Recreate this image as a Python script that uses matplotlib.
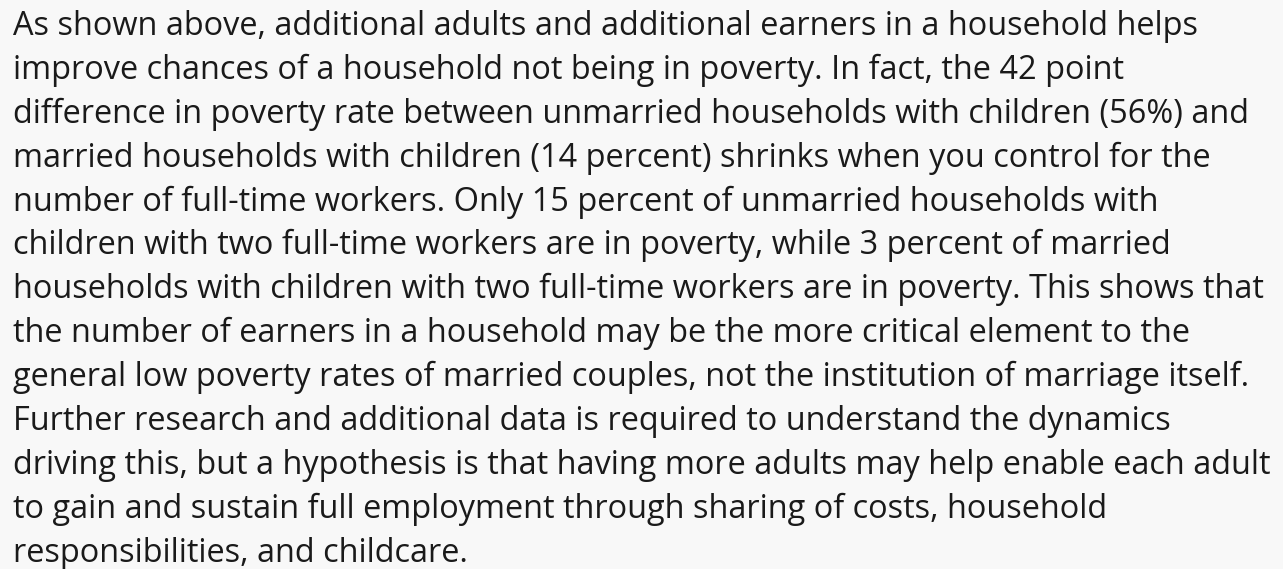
import matplotlib
matplotlib.use("Agg")
import matplotlib.pyplot as plt

lines = [
    "As shown above, additional adults and additional earners in a household helps",
    "improve chances of a household not being in poverty. In fact, the 42 point",
    "difference in poverty rate between unmarried households with children (56%) and",
    "married households with children (14 percent) shrinks when you control for the",
    "number of full-time workers. Only 15 percent of unmarried households with",
    "children with two full-time workers are in poverty, while 3 percent of married",
    "households with children with two full-time workers are in poverty. This shows that",
    "the number of earners in a household may be the more critical element to the",
    "general low poverty rates of married couples, not the institution of marriage itself.",
    "Further research and additional data is required to understand the dynamics",
    "driving this, but a hypothesis is that having more adults may help enable each adult",
    "to gain and sustain full employment through sharing of costs, household",
    "responsibilities, and childcare.",
]

W, H = 1283, 569
fig = plt.figure(figsize=(W / 100, H / 100), dpi=100)
fig.patch.set_facecolor("#f8f8f8")

x0 = 13
y_first = 35
spacing = 43.9
for i, t in enumerate(lines):
    y = y_first + i * spacing
    fig.text(x0 / W, 1 - y / H, t, fontsize=23.45, family="Open Sans",
             color="#1a1a1a", va="baseline", ha="left")

fig.savefig("out.png", dpi=100, facecolor=fig.get_facecolor())
